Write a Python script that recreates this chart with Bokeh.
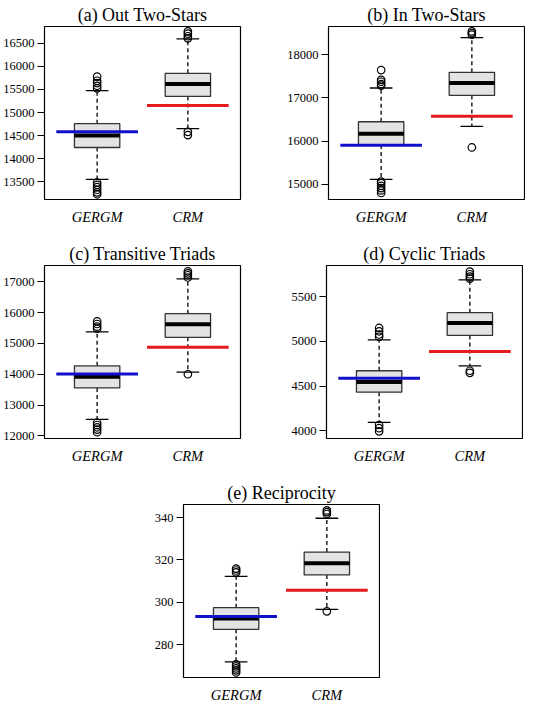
from bokeh.plotting import figure
from bokeh.layouts import column, row
from bokeh.models import Range1d, FixedTicker, Spacer
from bokeh.embed import file_html
from bokeh.resources import INLINE

GROUPS = ["GERGM", "CRM"]
GROUP_X = [1, 2]

TITLES = ["(a) Out Two-Stars", "(b) In Two-Stars", "(c) Transitive Triads",
          "(d) Cyclic Triads", "(e) Reciprocity"]

# [lower whisker, Q1, median, Q3, upper whisker]
out2_gergm = [13549, 14241, 14502, 14757, 15476]
out2_crm = [14651, 15349, 15618, 15851, 16599]
out2_gergm_out = [15780, 15690, 15640, 15580, 15525, 13479, 13430, 13380, 13324, 13267, 13225]
out2_crm_out = [16761, 16712, 16655, 16610, 14580, 14510]
out2_obs = [14580, 15152]
out2_ticks = [13500, 14000, 14500, 15000, 15500, 16000, 16500]

in2_gergm = [15113, 15910, 16168, 16448, 17231]
in2_crm = [16341, 17058, 17344, 17593, 18400]
in2_gergm_out = [17646, 17420, 17375, 17322, 17284, 15060, 15023, 14962, 14910, 14857, 14797]
in2_crm_out = [18543, 18505, 18467, 15852]
in2_obs = [15904, 16576]
in2_ticks = [15000, 16000, 17000, 18000]

ttri_gergm = [12534, 13557, 13916, 14274, 15376]
ttri_crm = [14067, 15196, 15618, 15966, 17095]
ttri_gergm_out = [15713, 15629, 15544, 15481, 12427, 12354, 12280, 12206, 12121]
ttri_crm_out = [17338, 17274, 17211, 17137, 14000]
ttri_obs = [14010, 14873]
ttri_ticks = [12000, 13000, 14000, 15000, 16000, 17000]

ctri_gergm = [4096, 4434, 4546, 4673, 5018]
ctri_crm = [4727, 5068, 5207, 5322, 5689]
ctri_gergm_out = [5151, 5114, 5078, 5053, 4067, 4031, 3996]
ctri_crm_out = [5780, 5751, 5725, 5703, 4673, 4650]
ctri_obs = [4590, 4887]
ctri_ticks = [4000, 4500, 5000, 5500]

recip_gergm = [271.8, 287.2, 292.3, 297.4, 312.2]
recip_crm = [296.6, 312.9, 318.4, 323.7, 339.7]
recip_gergm_out = [315.9, 315.0, 314.1, 270.6, 269.6, 268.7, 267.8, 266.8]
recip_crm_out = [343.4, 342.6, 341.7, 295.7]
recip_obs = [293.3, 305.6]
recip_ticks = [280, 300, 320, 340]

Y_RANGES = [(13112, 16867), (14646, 18656), (11916, 17527), (3916, 5849), (264.4, 346.2)]
OBS_COLORS = ["#1010C8", "#E41A1C"]

FONT = "Liberation Serif"
FW, FH = 196, 173
BOX_HALF, STAPLE_HALF, OBS_HALF = 0.25, 0.125, 0.45


def make_panel(title, gergm, crm, gergm_out, crm_out, obs, ticks, yr,
               left, right, bottom):
    p = figure(frame_width=FW, frame_height=FH,
               x_range=Range1d(0.42, 2.58), y_range=Range1d(*yr),
               output_backend="svg", toolbar_location=None, title=title,
               min_border_left=left, min_border_right=right,
               min_border_top=26, min_border_bottom=bottom)
    p.title.align = "center"
    p.title.text_font = FONT
    p.title.text_font_size = "18px"
    p.title.text_font_style = "normal"
    p.title.text_color = "black"
    p.title.standoff = 4
    p.grid.visible = False
    p.outline_line_color = "black"
    p.outline_line_width = 1.2
    p.outline_line_alpha = 1

    boxes = [gergm, crm]
    outs = [gergm_out, crm_out]
    for x, b, o in zip(GROUP_X, boxes, outs):
        lo, q1, med, q3, hi = b
        p.segment(x0=[x, x], y0=[q3, q1], x1=[x, x], y1=[hi, lo],
                  line_color="black", line_width=1.3, line_dash="4 3")
        p.segment(x0=[x - STAPLE_HALF] * 2, y0=[hi, lo],
                  x1=[x + STAPLE_HALF] * 2, y1=[hi, lo],
                  line_color="black", line_width=1.3)
        p.quad(left=[x - BOX_HALF], right=[x + BOX_HALF], bottom=[q1], top=[q3],
               fill_color="#E3E3E3", line_color="#333333", line_width=1.3)
        p.segment(x0=[x - BOX_HALF], y0=[med], x1=[x + BOX_HALF], y1=[med],
                  line_color="black", line_width=4)
        p.scatter(x=[x] * len(o), y=o, marker="circle", size=7.5,
                  fill_color=None, line_color="black", line_width=1.2)
    for x, v, c in zip(GROUP_X, obs, OBS_COLORS):
        p.segment(x0=[x - OBS_HALF], y0=[v], x1=[x + OBS_HALF], y1=[v],
                  line_color=c, line_width=3)

    p.xaxis.ticker = FixedTicker(ticks=GROUP_X)
    p.xaxis.major_label_overrides = {gx: g for gx, g in zip(GROUP_X, GROUPS)}
    p.xaxis.major_label_text_font = FONT
    p.xaxis.major_label_text_font_style = "italic"
    p.xaxis.major_label_text_font_size = "14.5px"
    p.xaxis.major_label_text_color = "black"
    p.xaxis.major_label_standoff = 3
    p.xaxis.major_tick_line_color = None
    p.xaxis.minor_tick_line_color = None
    p.xaxis.axis_line_color = None

    p.yaxis.ticker = FixedTicker(ticks=ticks)
    p.yaxis.major_label_text_font = FONT
    p.yaxis.major_label_text_font_size = "12.5px"
    p.yaxis.major_label_text_color = "black"
    p.yaxis.major_tick_out = 7
    p.yaxis.major_tick_in = 0
    p.yaxis.major_tick_line_color = "black"
    p.yaxis.major_label_standoff = 3
    p.yaxis.minor_tick_line_color = None
    p.yaxis.axis_line_color = None
    return p


pa = make_panel(TITLES[0], out2_gergm, out2_crm, out2_gergm_out, out2_crm_out,
                out2_obs, out2_ticks, Y_RANGES[0], 42, 44, 40)
pb = make_panel(TITLES[1], in2_gergm, in2_crm, in2_gergm_out, in2_crm_out,
                in2_obs, in2_ticks, Y_RANGES[1], 42, 1, 40)
pc = make_panel(TITLES[2], ttri_gergm, ttri_crm, ttri_gergm_out, ttri_crm_out,
                ttri_obs, ttri_ticks, Y_RANGES[2], 42, 44, 40)
pd = make_panel(TITLES[3], ctri_gergm, ctri_crm, ctri_gergm_out, ctri_crm_out,
                ctri_obs, ctri_ticks, Y_RANGES[3], 42, 1, 40)
pe = make_panel(TITLES[4], recip_gergm, recip_crm, recip_gergm_out, recip_crm_out,
                recip_obs, recip_ticks, Y_RANGES[4], 42, 1, 20)

layout = column(row(pa, pb), row(pc, pd), row(Spacer(width=141), pe))

open("out.html", "w").write(file_html(layout, INLINE))
